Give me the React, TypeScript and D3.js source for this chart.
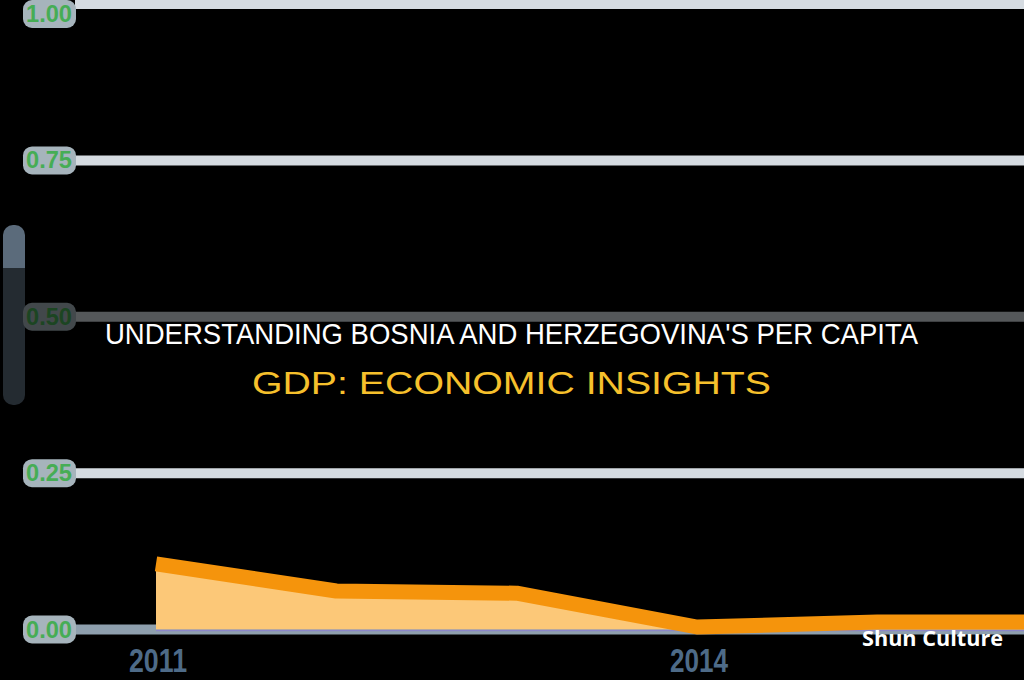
import React from "react";
import * as d3 from "d3";

const years = [2011, 2012, 2013, 2014, 2015, 2016];
const gdpShare = [0.105, 0.0615, 0.058, 0.004, 0.012, 0.012];
const yTicks = [0, 0.25, 0.5, 0.75, 1.0];
const yTickLabels = ["0.00", "0.25", "0.50", "0.75", "1.00"];
const xTicks = [2011, 2014];
const xTickLabels = ["2011", "2014"];
const titleLine1 = "UNDERSTANDING BOSNIA AND HERZEGOVINA'S PER CAPITA";
const titleLine2 = "GDP: ECONOMIC INSIGHTS";
const watermark = "Shun Culture";

const W = 1024;
const H = 680;

export default function App() {
  const x = d3.scaleLinear().domain([2011, 2014]).range([156, 697]);
  const y = d3.scaleLinear().domain([0, 1]).range([629.5, 4]);
  const pts = years.map((yr, i) => [yr, gdpShare[i]] as [number, number]);
  const area = d3
    .area<[number, number]>()
    .x((d) => x(d[0]))
    .y0(y(0))
    .y1((d) => y(d[1]))(pts) as string;
  const line = d3
    .line<[number, number]>()
    .x((d) => x(d[0]))
    .y((d) => y(d[1]))(pts) as string;

  return (
    <div style={{ position: "fixed", left: 0, top: 0, width: W, height: H, background: "#000" }}>
      <svg width={W} height={H} viewBox={`0 0 ${W} ${H}`} style={{ display: "block" }}>
        <defs>
          <clipPath id="plot">
            <rect x={0} y={0} width={W} height={H} />
          </clipPath>
        </defs>
        <rect x={0} y={0} width={W} height={H} fill="#000" />
        {/* y-axis title blob */}
        <rect x={3} y={225} width={22} height={180} rx={10} fill="#5b6b7b" />
        {/* gridlines */}
        {yTicks.map((t) => (
          <line
            key={"g" + t}
            x1={75}
            x2={W}
            y1={y(t)}
            y2={y(t)}
            stroke={t === 0 ? "#8e9fad" : "#d5dbe1"}
            strokeWidth={10}
          />
        ))}
        {/* y tick labels */}
        {yTicks.map((t, i) => (
          <g key={"yl" + t} transform={`translate(49,${Math.max(y(t), 14)})`}>
            <rect x={-26} y={-14} width={53} height={28} rx={9} fill="#a6b4bc" />
            <text
              x={0}
              y={8}
              textAnchor="middle"
              fontFamily="'Liberation Sans Narrow', 'Liberation Sans', Arial, sans-serif"
              fontWeight={700}
              fontSize={23}
              fill="#46ad55"
              textLength={46}
              lengthAdjust="spacingAndGlyphs"
            >
              {yTickLabels[i]}
            </text>
          </g>
        ))}
        {/* area and line */}
        <g clipPath="url(#plot)">
          <path d={area} fill="#fcc878" />
          <line x1={x(2011)} x2={W} y1={y(0) + 1} y2={y(0) + 1} stroke="#8a86c8" strokeWidth={1.5} />
          <path d={line} fill="none" stroke="#f5940c" strokeWidth={15} strokeLinejoin="round" />
        </g>
        {/* x tick labels */}
        {xTicks.map((t, i) => (
          <text
            key={"xl" + t}
            x={x(t) + 2}
            y={672}
            textAnchor="middle"
            fontFamily="'Liberation Sans Narrow', 'Liberation Sans', Arial, sans-serif"
            fontWeight={700}
            fontSize={33}
            fill="#4e6b88"
            textLength={58}
            lengthAdjust="spacingAndGlyphs"
          >
            {xTickLabels[i]}
          </text>
        ))}
        {/* title overlay band */}
        <rect x={0} y={268} width={W} height={181} fill="#000" opacity={0.6} />
        <text
          x={511.5}
          y={344}
          textAnchor="middle"
          fontFamily="'Liberation Sans', Arial, sans-serif"
          fontSize={29}
          fill="#ffffff"
          textLength={813}
          lengthAdjust="spacingAndGlyphs"
        >
          {titleLine1}
        </text>
        <text
          x={511.5}
          y={394}
          textAnchor="middle"
          fontFamily="'Liberation Sans', Arial, sans-serif"
          fontSize={32}
          fill="#f6c02c"
          textLength={519}
          lengthAdjust="spacingAndGlyphs"
        >
          {titleLine2}
        </text>
        {/* watermark */}
        <text
          x={932.5}
          y={646}
          textAnchor="middle"
          fontFamily="'Open Sans', Lato, sans-serif"
          fontWeight={700}
          fontSize={22}
          fill="#ffffff"
          textLength={141}
          lengthAdjust="spacingAndGlyphs"
        >
          {watermark}
        </text>
      </svg>
    </div>
  );
}
